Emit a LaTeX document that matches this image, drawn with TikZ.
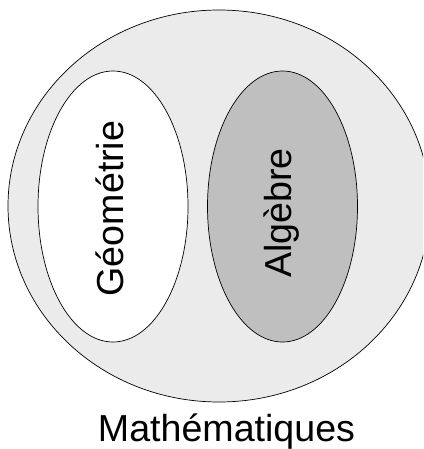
\documentclass[tikz,border=0pt]{standalone}
\usepackage{fontspec}
\setmainfont{Liberation Sans}
\usetikzlibrary{shapes.geometric}
\definecolor{grisclair}{rgb}{0.92,0.92,0.92}
\definecolor{grismoyen}{rgb}{0.75,0.75,0.75}
\tikzset{
  ensemble/.style={
    ellipse,
    draw=black,
    line width=.7pt,
    inner sep=0pt
  },
  sousensemble/.style={
    ensemble,
    minimum width=150pt,
    minimum height=271pt
  },
  etiquette/.style={
    font=\fontsize{37.6pt}{40pt}\selectfont,
    inner sep=0pt
  }
}
\begin{document}
\begin{tikzpicture}[x=1pt,y=-1pt]
\clip (0,0) rectangle (423,449);
\fill[white] (0,0) rectangle (423,449);
\node[ensemble,fill=grisclair,minimum width=422pt,minimum height=392pt] (math) at (219,206) {};
\node[sousensemble,fill=white] (geo) at (113,206.5) {};
\node[sousensemble,fill=grismoyen] (alg) at (282.5,206.5) {};
\node[etiquette,rotate=90,anchor=base] (tgeo) at (123,208.5) {Géométrie};
\node[etiquette,rotate=90,anchor=base] (talg) at (291,213) {Algèbre};
\node[etiquette,anchor=base] (tmath) at (226.5,441) {Mathématiques};
\end{tikzpicture}
\end{document}
